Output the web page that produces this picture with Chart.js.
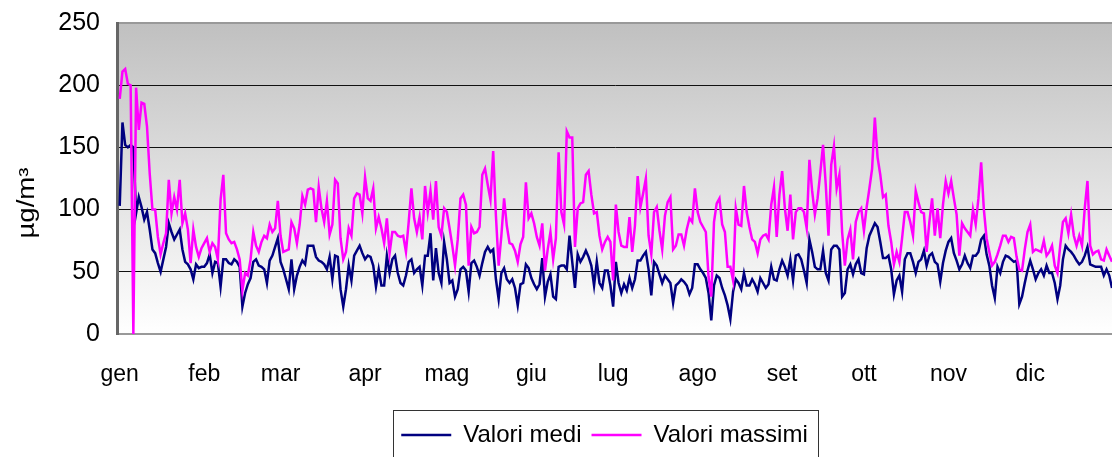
<!DOCTYPE html>
<html>
<head>
<meta charset="utf-8">
<script src="https://cdn.jsdelivr.net/npm/chart.js@4.4.1/dist/chart.umd.min.js"></script>
<style>
  html, body { margin: 0; padding: 0; background: #fff; }
  canvas { display: block; }
</style>
</head>
<body>
<canvas id="myChart" width="1112" height="457"></canvas>
<script>
const monthLabels = ["gen", "feb", "mar", "apr", "mag", "giu", "lug", "ago", "set", "ott", "nov", "dic"];
const monthStarts = [0, 31, 59, 90, 120, 151, 181, 212, 243, 273, 304, 334];
const yTicks = [0, 50, 100, 150, 200, 250];

// daily values (µg/m³)
const valoriMedi = [
  103,170,152,150,152,150,97,110,102,92,
  98,84,68,65,57,50,60,70,89,82,
  76,80,84,68,58,56,52,44,56,53,
  54,54,57,64,49,58,57,38,60,60,
  57,56,60,58,54,22,33,40,45,58,
  60,55,54,52,41,59,63,70,77,58,
  52,44,36,60,36,47,54,59,56,71,
  71,71,62,59,58,56,52,62,44,63,
  62,36,22,36,55,43,63,67,71,65,
  60,63,62,55,38,52,39,39,63,49,
  60,63,49,41,39,47,58,60,49,52,
  54,39,63,63,81,43,69,49,41,74,
  60,41,43,30,36,52,54,51,34,57,
  59,54,47,57,66,70,66,68,44,28,
  49,53,44,41,44,37,23,40,41,56,
  53,45,40,36,40,61,30,42,48,30,
  28,54,55,55,52,79,58,37,64,58,
  62,67,62,55,39,58,41,37,51,51,
  39,22,58,41,33,40,35,45,37,44,
  59,59,63,66,52,31,58,55,48,41,
  47,44,41,25,39,41,44,42,39,32,
  37,56,56,52,49,45,33,11,39,47,
  45,37,31,23,12,34,44,41,36,49,
  39,39,44,40,34,45,41,37,40,54,
  44,43,52,59,54,47,60,43,63,64,
  60,51,41,76,66,54,52,52,67,49,
  43,68,71,71,68,30,33,52,56,48,
  56,60,49,48,69,79,84,89,86,74,
  61,61,63,52,32,43,47,34,60,65,
  65,58,49,58,60,67,55,63,65,58,
  56,42,57,67,74,77,65,59,52,56,
  63,57,53,63,63,66,76,79,64,55,
  39,29,54,49,58,63,62,60,58,59,
  24,30,41,51,59,52,44,49,52,47,
  55,49,49,41,28,39,60,71,68,66,
  63,59,56,58,63,70,56,55,54,54,
  54,47,52,47,37
];

const valoriMassimi = [
  189,211,213,201,200,0,198,164,186,185,
  167,129,100,100,78,64,73,81,124,97,
  110,100,124,89,97,84,57,84,70,62,
  69,73,77,66,73,70,60,108,128,81,
  76,73,74,68,60,35,49,47,60,82,
  71,66,74,79,77,88,82,85,107,79,
  66,67,68,90,85,73,88,111,104,116,
  117,116,90,118,101,90,107,80,88,124,
  121,77,60,66,85,79,109,113,112,97,
  126,109,107,117,85,94,85,73,93,65,
  82,82,79,78,79,66,90,117,93,82,
  94,76,119,98,115,92,123,86,79,101,
  98,85,71,55,76,109,112,104,55,86,
  81,82,86,128,133,120,108,147,95,55,
  79,109,87,73,72,67,58,72,78,122,
  93,97,89,78,71,89,51,68,82,60,
  77,146,98,88,163,158,158,70,101,105,
  106,128,131,112,97,98,79,68,74,78,
  74,43,104,82,71,70,70,94,66,87,
  127,102,113,125,79,64,98,102,83,68,
  95,106,110,68,71,80,80,71,84,93,
  90,117,98,90,86,82,46,30,90,105,
  109,88,82,54,54,43,101,88,87,119,
  98,86,76,74,65,76,79,80,76,104,
  118,78,112,131,101,83,112,76,98,101,
  101,98,85,140,115,96,109,130,152,120,
  79,136,151,117,128,82,55,76,84,60,
  90,98,101,83,102,117,133,174,142,128,
  110,112,87,74,56,66,58,77,98,98,
  90,79,115,106,98,97,66,90,109,79,
  101,77,104,123,113,123,109,96,63,89,
  85,82,79,100,88,109,138,100,77,66,
  55,58,64,71,79,79,74,78,77,62,
  52,51,68,82,88,66,68,67,66,75,
  63,66,71,55,49,71,90,93,81,96,
  79,71,79,71,101,123,71,64,66,67,
  60,59,68,63,58
];

const toPoints = arr => arr.map((v, i) => ({ x: i, y: v }));

Chart.defaults.font.family = '"Liberation Sans", Arial, sans-serif';
Chart.defaults.color = "#000";

// grey-to-white plot background, like the spreadsheet chart
const plotBackground = {
  id: "plotBackground",
  beforeDraw(chart) {
    const { ctx, chartArea: a } = chart;
    const g = ctx.createLinearGradient(0, a.top, 0, a.bottom);
    g.addColorStop(0, "#c0c0c0");
    g.addColorStop(1, "#ffffff");
    ctx.save();
    ctx.fillStyle = g;
    ctx.fillRect(a.left, a.top, a.right - a.left, a.bottom - a.top);
    ctx.restore();
  }
};

// y title, legend nudge and frame around the legend
const extras = {
  id: "extras",
  afterLayout(chart) {
    chart.legend.left -= 10;
    chart.legend.right -= 10;
  },
  afterDraw(chart) {
    const ctx = chart.ctx;
    ctx.save();
    ctx.translate(34, 203);
    ctx.rotate(-Math.PI / 2);
    ctx.scale(1.2, 1);
    ctx.font = '23px "Liberation Sans", Arial, sans-serif';
    ctx.fillStyle = "#000";
    ctx.textAlign = "center";
    ctx.textBaseline = "alphabetic";
    ctx.fillText("µg/m³", 0, 0);
    ctx.restore();

    const hb = chart.legend.legendHitBoxes;
    if (hb && hb.length) {
      const first = hb[0], last = hb[hb.length - 1];
      const x0 = first.left - 8;
      const x1 = last.left + last.width + 10;
      const y0 = first.top - 13;
      ctx.save();
      ctx.strokeStyle = "#333";
      ctx.lineWidth = 1;
      ctx.strokeRect(Math.round(x0) + 0.5, Math.round(y0) + 0.5, Math.round(x1 - x0), 80);
      ctx.restore();
    }
  }
};

new Chart("myChart", {
  type: "line",
  data: {
    datasets: [{
      label: "Valori medi",
      data: toPoints(valoriMedi),
      borderColor: "#000080",
      backgroundColor: "#000080",
      borderWidth: 2.5,
      pointRadius: 0,
      pointStyle: "line",
      fill: false,
      tension: 0,
      order: 1
    }, {
      label: "Valori massimi",
      data: toPoints(valoriMassimi),
      borderColor: "#ff00ff",
      backgroundColor: "#ff00ff",
      borderWidth: 2.5,
      pointRadius: 0,
      pointStyle: "line",
      fill: false,
      tension: 0,
      order: 0
    }]
  },
  options: {
    responsive: false,
    animation: false,
    devicePixelRatio: 1,
    layout: { padding: { top: 23, left: 0, right: 0, bottom: 0 } },
    plugins: {
      tooltip: { enabled: false },
      legend: {
        position: "bottom",
        fullSize: false,
        labels: {
          usePointStyle: true,
          pointStyleWidth: 50,
          padding: 10,
          color: "#000",
          font: { size: 24 },
          sort: (a, b) => a.datasetIndex - b.datasetIndex
        }
      }
    },
    scales: {
      x: {
        type: "linear",
        min: -1,
        max: 364,
        afterBuildTicks: s => { s.ticks = monthStarts.map(v => ({ value: v })); },
        afterFit: s => { s.height = 79; },
        ticks: {
          autoSkip: false,
          maxRotation: 0,
          padding: 27,
          font: { size: 23 },
          callback: v => monthLabels[monthStarts.indexOf(v)]
        },
        grid: { display: false, drawTicks: false },
        border: { color: "#999", width: 2 }
      },
      y: {
        min: 0,
        max: 250,
        afterBuildTicks: s => { s.ticks = yTicks.map(v => ({ value: v })); },
        afterFit: s => { s.width = 117; s.paddingTop = 0; s.paddingBottom = 0; },
        ticks: { padding: 17, font: { size: 25 } },
        grid: {
          drawTicks: false,
          color: c => c.tick.value === 250 ? "#999" : (c.tick.value === 0 ? "rgba(0,0,0,0)" : "#111"),
          lineWidth: c => c.tick.value === 250 ? 2 : 1
        },
        border: { color: "#666", width: 3 }
      }
    }
  },
  plugins: [plotBackground, extras]
});
</script>
</body>
</html>
